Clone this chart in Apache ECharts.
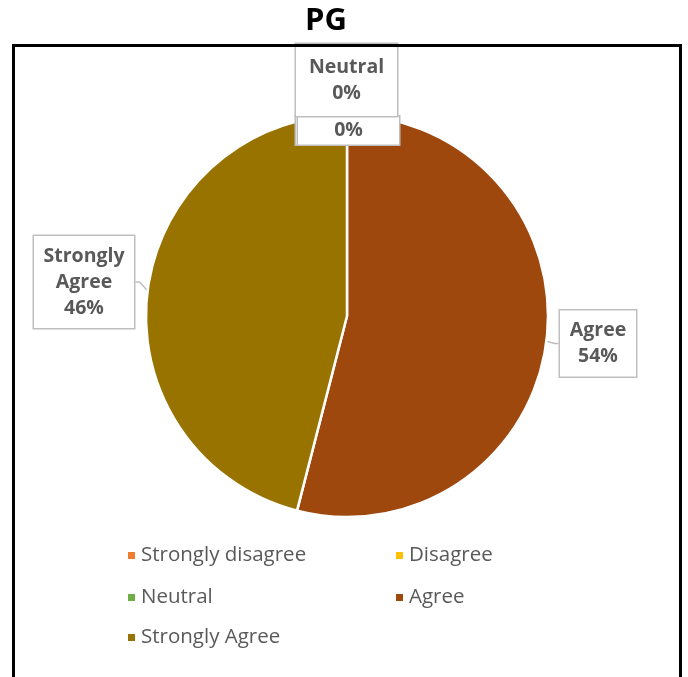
<!DOCTYPE html>
<html>
<head>
<meta charset="utf-8">
<script src="https://cdn.jsdelivr.net/npm/echarts@6/dist/echarts.min.js"></script>
<style>html,body{margin:0;padding:0;background:#fff}#c{width:688px;height:677px}</style>
</head>
<body>
<div id="c"></div>
<script>
const categories = ['Strongly disagree', 'Disagree', 'Neutral', 'Agree', 'Strongly Agree'];
const values = [0, 0, 0, 54, 46];
const colors = ['#ED7D31', '#FFC000', '#70AD47', '#9E480E', '#997300'];
const showName = [false, false, true, true, true];
const showLabel = [true, true, true, true, true];
const chartTitle = 'PG';

const chart = echarts.init(document.getElementById('c'), null, {renderer: 'canvas'});
const FONT = '"Open Sans", sans-serif';

// label box centres (layout)
const labelPos = {
  0: {x: 346.5, y: 130.5, w: 85, pad: [1, 8]},
  1: {x: 348.5, y: 130.5, w: 85, pad: [1, 8]},
  2: {x: 346.5, y: 80, w: 85, pad: [10, 8]},
  3: {x: 598, y: 343.5, w: 58, pad: [7, 9]},
  4: {x: 84, y: 282, w: 84, pad: [7, 8]}
};

const legendSlots = [
  {left: 126, top: 545},
  {left: 394, top: 545},
  {left: 126, top: 587},
  {left: 394, top: 587},
  {left: 126, top: 627}
];

const option = {
  animation: false,
  title: {
    text: chartTitle,
    left: 326, top: 6, textAlign: 'center', padding: 0,
    textStyle: {fontFamily: FONT, fontWeight: 'bold', fontSize: 31, color: '#000'}
  },
  color: colors,
  legend: categories.map((c, i) => ({
    data: [c],
    left: legendSlots[i].left, top: legendSlots[i].top,
    padding: 0,
    icon: 'rect', itemWidth: 9, itemHeight: 9, itemGap: 0, itemTextGap: 9,
    selectedMode: false,
    textStyle: {fontFamily: FONT, fontSize: 20.5, color: '#595959'}
  })),
  graphic: [{
    type: 'rect', z: 100, silent: true,
    shape: {x: 13.5, y: 45.5, width: 667, height: 660},
    style: {fill: 'none', stroke: '#000', lineWidth: 3}
  }],
  series: [{
    type: 'pie',
    center: [347, 316],
    radius: 201,
    startAngle: 90,
    clockwise: true,
    avoidLabelOverlap: false,
    stillShowZeroSum: true,
    itemStyle: {borderColor: '#fff', borderWidth: 2.5},
    data: categories.map((c, i) => ({
      name: c, value: values[i],
      itemStyle: {color: colors[i]},
      label: {show: showLabel[i], width: labelPos[i].w, padding: labelPos[i].pad},
      labelLine: {show: i >= 3}
    })),
    label: {
      show: true,
      position: 'outside',
      formatter: p => (showName[p.dataIndex] ? p.name.replace(' ', '\n') + '\n' : '') + Math.round(p.percent) + '%',
      fontFamily: FONT, fontWeight: 'bold', fontSize: 19.5, lineHeight: 26,
      color: '#595959', align: 'center',
      backgroundColor: '#fff', borderColor: '#BFBFBF', borderWidth: 1.5,
      padding: [6, 8]
    },
    labelLine: {length: 4, length2: 4, lineStyle: {color: '#BFBFBF', width: 1.5}},
    labelLayout: p => {
      const lp = labelPos[p.dataIndex];
      return {x: lp.x, y: lp.y, align: 'center', verticalAlign: 'middle'};
    }
  }]
};
chart.setOption(option);
</script>
</body>
</html>
